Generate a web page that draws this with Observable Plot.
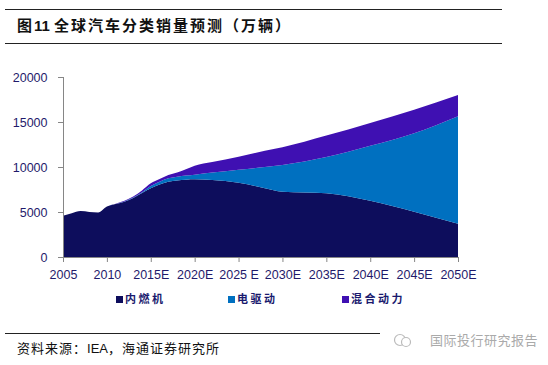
<!DOCTYPE html>
<html>
<head>
<meta charset="utf-8">
<script src="https://cdn.jsdelivr.net/npm/d3@7"></script>
<script src="https://cdn.jsdelivr.net/npm/@observablehq/plot@0.6"></script>
<style>
  html, body { margin: 0; padding: 0; background: #fff; }
  #wrap { position: relative; width: 548px; height: 365px; overflow: hidden; font-family: "Noto Sans CJK SC", sans-serif; }
  #chart { position: absolute; left: 0; top: 0; }
  .hline { position: absolute; height: 1px; background: #222; }
  #title { position: absolute; left: 17px; top: 15px; font-size: 15px; font-weight: bold; letter-spacing: 2px; color: #111; line-height: 20px; white-space: nowrap; }
  #title .num { font-family: "Liberation Sans", Arial, sans-serif; letter-spacing: 0; }
  #source { position: absolute; left: 17px; top: 340px; font-size: 13px; letter-spacing: 1px; color: #111; line-height: 16px; white-space: nowrap; }
  #source .lat { font-family: "Liberation Sans", Arial, sans-serif; letter-spacing: 0; }
  #wm { position: absolute; left: 430px; top: 331px; font-size: 13px; color: #aaa; letter-spacing: 0.5px; line-height: 18px; white-space: nowrap; }
  .leg { position: absolute; top: 291px; font-size: 11px; font-weight: bold; letter-spacing: 2.5px; color: #1a1a6e; line-height: 14px; white-space: nowrap; }
  .sw { display: inline-block; width: 7px; height: 7px; margin-right: 2px; vertical-align: 0px; }
</style>
</head>
<body>
<div id="wrap">
  <div class="hline" style="left:5px; width:497px; top:9px;"></div>
  <div id="title">图<span class="num">11 </span>全球汽车分类销量预测（万辆）</div>
  <div class="hline" style="left:5px; width:497px; top:43px;"></div>
  <div id="chart"></div>
  <div id="legend"></div>
  <div class="hline" style="left:5px; width:375px; top:333px;"></div>
  <div id="source">资料来源：<span class="lat">IEA</span>，海通证券研究所</div>
  <svg style="position:absolute; left:392px; top:332px;" width="22" height="16">
    <circle cx="8" cy="8" r="5.5" fill="none" stroke="#bbb" stroke-width="1.2"/>
    <circle cx="14" cy="10" r="4.5" fill="#fff" stroke="#bbb" stroke-width="1.2"/>
  </svg>
  <div id="wm">国际投行研究报告</div>
</div>
<script>
const years = [2005, 2006, 2007, 2008, 2009, 2010, 2011, 2012, 2013, 2014, 2015, 2016, 2017, 2018, 2019, 2020, 2022, 2025, 2028, 2030, 2035, 2040, 2045, 2050];
const iceValues = [4590, 4850, 5100, 5000, 4950, 5600, 5900, 6150, 6550, 7100, 7630, 8050, 8350, 8500, 8590, 8630, 8550, 8250, 7650, 7250, 7080, 6250, 5030, 3700];
const evValues = [0, 0, 0, 0, 0, 0, 0, 20, 50, 100, 260, 300, 390, 420, 460, 520, 830, 1450, 2350, 2970, 4020, 6100, 8720, 11950];
const hybridValues = [0, 0, 0, 0, 0, 0, 30, 80, 130, 200, 300, 320, 380, 480, 710, 1000, 1170, 1450, 1800, 1980, 2400, 2550, 2600, 2350];
const types = ["内燃机", "电驱动", "混合动力"];
const colors = ["#0d0d5c", "#0070c0", "#3f10b2"];
const xTicks = [2005, 2010, 2015, 2020, 2025, 2030, 2035, 2040, 2045, 2050];
const xTickLabels = ["2005", "2010", "2015E", "2020E", "2025 E", "2030E", "2035E", "2040E", "2045E", "2050E"];
const yTicks = [0, 5000, 10000, 15000, 20000];

const series = [iceValues, evValues, hybridValues];
const data = [];
years.forEach((yr, i) => {
  types.forEach((t, k) => data.push({ year: yr, type: t, value: series[k][i] }));
});

const gray = "#868686";
const navy = "#1f1a6b";

const chart = Plot.plot({
  width: 548,
  height: 365,
  marginLeft: 63,
  marginRight: 90,
  marginTop: 77,
  marginBottom: 108,
  style: { fontFamily: "'Liberation Sans', Arial, sans-serif", fontSize: "12.5px", background: "transparent", overflow: "visible" },
  x: { domain: [2005, 2050] },
  y: { domain: [0, 20000] },
  color: { domain: types, range: colors },
  marks: [
    Plot.areaY(data, { x: "year", y: "value", fill: "type", order: types, curve: "monotone-x" }),
    Plot.ruleX([2005], { y1: 0, y2: 20000, stroke: gray }),
    Plot.ruleY([0], { stroke: gray }),
    Plot.axisY({ ticks: yTicks, tickSize: 5, tickPadding: 11, stroke: gray, fill: navy, strokeOpacity: 1, tickFormat: d => String(d), label: null }),
    Plot.axisX({ ticks: xTicks, tickSize: 5, tickPadding: 8, stroke: gray, fill: navy, strokeOpacity: 1, tickFormat: d => xTickLabels[xTicks.indexOf(d)], label: null })
  ]
});
document.getElementById("chart").appendChild(chart);

const legendX = [116, 228, 342];
const legend = document.getElementById("legend");
types.forEach((t, k) => {
  const el = document.createElement("div");
  el.className = "leg";
  el.style.left = legendX[k] + "px";
  el.innerHTML = `<span class="sw" style="background:${colors[k]}"></span>${t}`;
  legend.appendChild(el);
});
</script>
</body>
</html>
